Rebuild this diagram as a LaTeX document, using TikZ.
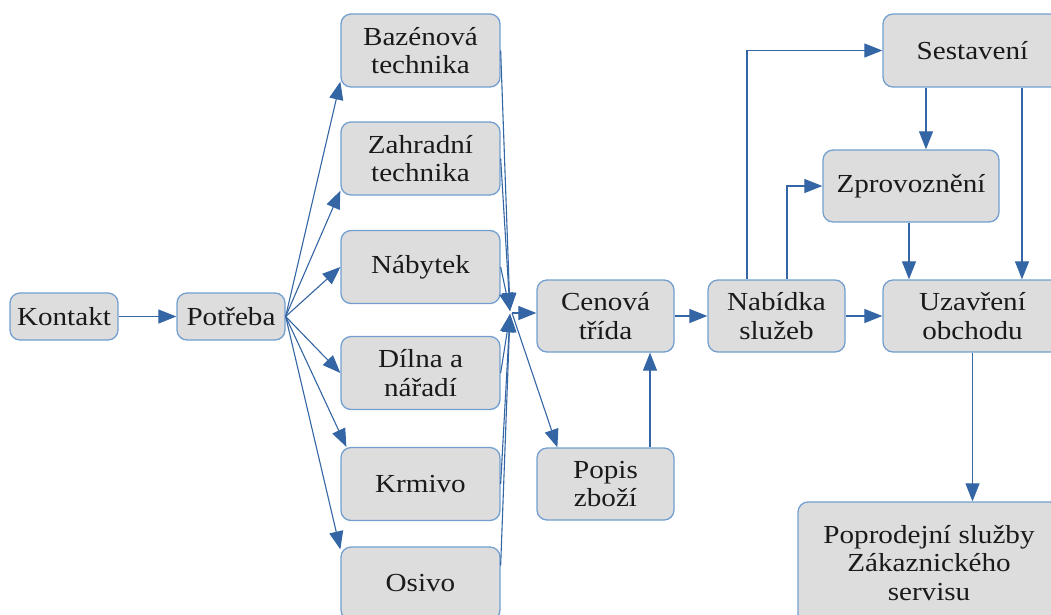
\documentclass[tikz,border=0pt]{standalone}
\usepackage{fontspec}
\setmainfont{Liberation Serif}[FakeStretch=1.12]
\usetikzlibrary{arrows.meta,calc}
\definecolor{boxfill}{HTML}{DDDDDD}
\definecolor{boxline}{HTML}{729FCF}
\definecolor{arr}{HTML}{3465A4}
\definecolor{txt}{HTML}{1A1A1A}
\begin{document}
\begin{tikzpicture}[x=1pt,y=-1pt,
  box/.style={draw=boxline, fill=boxfill, line width=1.3pt, rounded corners=10pt,
    align=center, inner sep=0pt, text=txt, font=\fontsize{26}{28.5}\selectfont},
  small/.style={box, minimum width=108pt, minimum height=47pt},
  prod/.style={box, minimum width=159pt, minimum height=73pt},
  mid/.style={box, minimum width=137pt, minimum height=72pt},
  conn/.style={draw=arr, line width=1.1pt, -{Triangle[length=18pt,width=14pt]}}]
\useasboundingbox (0,0) rectangle (1051,614);
\clip (0,0) rectangle (1051,614);
% nodes
\node[small] (kon) at (64,316.5) {Kontakt};
\node[small] (pot) at (231,316.5) {Potřeba};
\node[prod] (baz) at (420.5,50.5) {Bazénová\\technika};
\node[prod] (zah) at (420.5,158.5) {Zahradní\\technika};
\node[prod] (nby) at (420.5,267) {Nábytek};
\node[prod] (dil) at (420.5,373) {Dílna a\\nářadí};
\node[prod] (krm) at (420.5,484) {Krmivo};
\node[prod] (osi) at (420.5,583.5) {Osivo};
\node[mid] (cen) at (605.5,316) {Cenová\\třída};
\node[mid] (pop) at (605.5,484) {Popis\\zboží};
\node[mid] (nabs) at (776.5,316) {Nabídka\\služeb};
\node[box, minimum width=179pt, minimum height=73pt] (ses) at (972.5,50.5) {Sestavení};
\node[box, minimum width=176pt, minimum height=72pt] (zpr) at (911,186) {Zprovoznění};
\node[box, minimum width=179pt, minimum height=72pt] (uza) at (972.5,316) {Uzavření\\obchodu};
\node[box, minimum width=262pt, minimum height=122pt] (pro) at (929,563) {Poprodejní služby\\Zákaznického\\servisu};
% convergence points
\coordinate (cu) at (510,311);
\coordinate (cl) at (510,314);
\coordinate (cv) at (512,313);
% connectors
\draw[conn] (kon) -- (pot);
\draw[conn] (pot.east) -- ([yshift=6pt]baz.south west);
\draw[conn] (pot.east) -- ([yshift=5pt]zah.south west);
\draw[conn] (pot.east) -- (nby.west);
\draw[conn] (pot.east) -- (dil.west);
\draw[conn] (pot.east) -- ([xshift=6pt]krm.north west);
\draw[conn] (pot.east) -- ([yshift=-3pt]osi.north west);
\draw[conn] (baz.east) -- (cu);
\draw[conn] (zah.east) -- (cu);
\draw[conn] (nby.east) -- (cu);
\draw[conn] (dil.east) -- (cl);
\draw[conn] (krm.east) -- (cl);
\draw[conn] ([yshift=18pt]osi.east) -- (cl);
\draw[conn] (cv) -- (cv -| cen.west);
\draw[conn] (cv) -- ([xshift=21pt]pop.north west);
\draw[conn] ([xshift=44.5pt]pop.north) -- ([xshift=44.5pt]pop.north |- cen.south);
\draw[conn] (cen.east) -- (nabs.west);
\draw[conn] (nabs.east) -- (uza.west);
\draw[conn] ([xshift=-29.5pt]nabs.north) |- (ses.west);
\draw[conn] ([xshift=10.5pt]nabs.north) |- (zpr.west);
\draw[conn] ([xshift=-46.5pt]ses.south) -- ([xshift=-46.5pt]ses.south |- zpr.north);
\draw[conn] ([xshift=49.5pt]ses.south) -- ([xshift=49.5pt]ses.south |- uza.north);
\draw[conn] ([xshift=-2pt]zpr.south) -- ([xshift=-2pt]zpr.south |- uza.north);
\draw[conn] (uza.south) -- (uza.south |- pro.north);
\end{tikzpicture}
\end{document}
